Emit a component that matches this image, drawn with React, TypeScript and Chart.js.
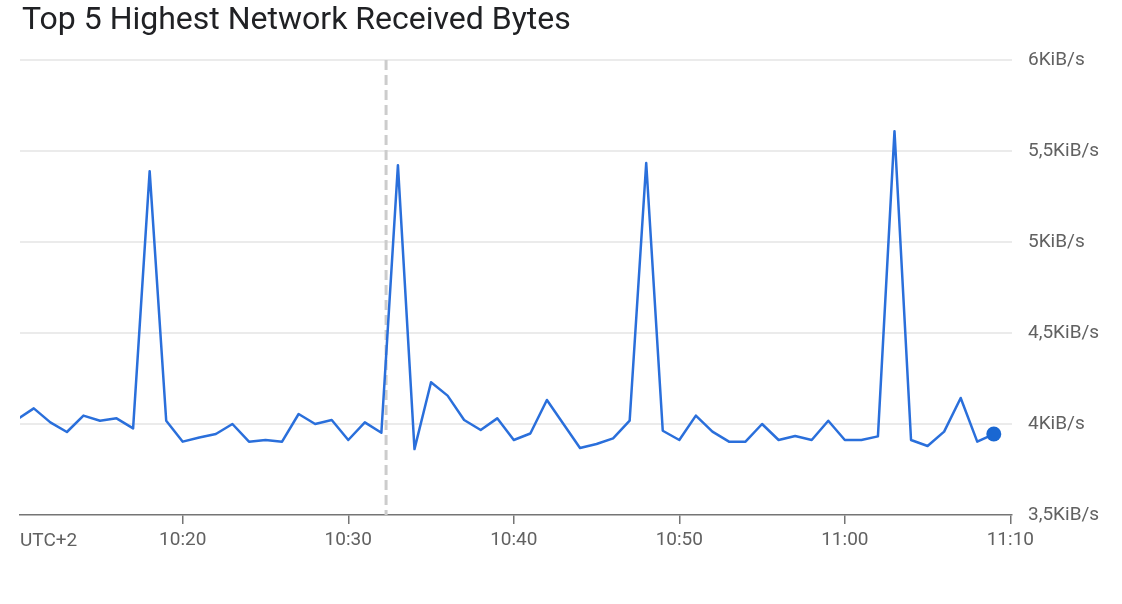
import React, { useEffect, useRef } from "react";
import { Chart, registerables } from "chart.js";

Chart.register(...registerables);

const TITLE = "Top 5 Highest Network Received Bytes";
const TIMEZONE_LABEL = "UTC+2";

const times = [
  "10:10", "10:11", "10:12", "10:13", "10:14", "10:15", "10:16", "10:17", "10:18", "10:19",
  "10:20", "10:21", "10:22", "10:23", "10:24", "10:25", "10:26", "10:27", "10:28", "10:29",
  "10:30", "10:31", "10:32", "10:33", "10:34", "10:35", "10:36", "10:37", "10:38", "10:39",
  "10:40", "10:41", "10:42", "10:43", "10:44", "10:45", "10:46", "10:47", "10:48", "10:49",
  "10:50", "10:51", "10:52", "10:53", "10:54", "10:55", "10:56", "10:57", "10:58", "10:59",
  "11:00", "11:01", "11:02", "11:03", "11:04", "11:05", "11:06", "11:07", "11:08", "11:09",
];

// KiB/s
const receivedKiB = [
  4.026, 4.086, 4.009, 3.956, 4.046, 4.018, 4.031, 3.976, 5.389, 4.018,
  3.903, 3.926, 3.945, 4.0, 3.903, 3.912, 3.903, 4.055, 4.0, 4.022,
  3.912, 4.009, 3.952, 5.422, 3.862, 4.229, 4.156, 4.022, 3.967, 4.031,
  3.912, 3.948, 4.132, 4.0, 3.868, 3.89, 3.921, 4.018, 5.434, 3.963,
  3.912, 4.046, 3.958, 3.903, 3.903, 4.0, 3.912, 3.934, 3.912, 4.018,
  3.912, 3.912, 3.932, 5.609, 3.912, 3.879, 3.958, 4.143, 3.903, 3.945,
];

const xTickLabels = ["10:20", "10:30", "10:40", "10:50", "11:00", "11:10"];
const yTickValues = [3.5, 4, 4.5, 5, 5.5, 6];
const yTickLabels = ["3,5KiB/s", "4KiB/s", "4,5KiB/s", "5KiB/s", "5,5KiB/s", "6KiB/s"];

const X_START = "10:10:10";
const X_END = "11:10:06";
const MARKER_TIME = "10:32:17";

function toMinutes(t: string): number {
  const parts = t.split(":").map(Number);
  return (parts[0] - 10) * 60 + parts[1] + (parts[2] || 0) / 60;
}

function minutesLabel(m: number): string {
  const h = 10 + Math.floor(m / 60);
  const mm = Math.round(m % 60);
  return `${h}:${mm < 10 ? "0" + mm : mm}`;
}

const FONT = "Roboto";
const LABEL_COLOR = "#616161";

export default function App() {
  const canvasRef = useRef<HTMLCanvasElement | null>(null);

  useEffect(() => {
    const canvas = canvasRef.current;
    if (!canvas) return;
    const points = times.map((t, i) => ({ x: toMinutes(t), y: receivedKiB[i] }));
    const xTickValues = xTickLabels.map(toMinutes);
    const lastIndex = points.length - 1;

    const overlay = {
      id: "overlay",
      beforeDatasetsDraw(chart: any) {
        const { ctx, chartArea, scales } = chart;
        const x = scales.x.getPixelForValue(toMinutes(MARKER_TIME));
        ctx.save();
        ctx.strokeStyle = "#cccccc";
        ctx.lineWidth = 3;
        ctx.setLineDash([10, 5]);
        ctx.beginPath();
        ctx.moveTo(x, chartArea.top);
        ctx.lineTo(x, chartArea.bottom);
        ctx.stroke();
        ctx.restore();
      },
      afterDraw(chart: any) {
        const { ctx, chartArea } = chart;
        ctx.save();
        ctx.font = `19px ${FONT}`;
        ctx.fillStyle = LABEL_COLOR;
        ctx.textAlign = "left";
        ctx.textBaseline = "middle";
        ctx.fillText(TIMEZONE_LABEL, chartArea.left, chartArea.bottom + 26);
        ctx.restore();
      },
    };

    const chart = new Chart(canvas, {
      type: "line",
      data: {
        datasets: [
          {
            data: points,
            borderColor: "#2a6fdb",
            backgroundColor: "#1967d2",
            borderWidth: 2.5,
            borderJoinStyle: "round",
            tension: 0,
            pointRadius: (ctx: any) => (ctx.dataIndex === lastIndex ? 7.5 : 0),
            pointBackgroundColor: "#1967d2",
            pointBorderWidth: 0,
            pointHoverRadius: 0,
          },
        ],
      },
      options: {
        animation: false,
        responsive: false,
        devicePixelRatio: 1,
        layout: { padding: { left: 20, top: 60, right: 0, bottom: 0 } },
        plugins: {
          legend: { display: false },
          title: { display: false },
          tooltip: { enabled: false },
        },
        scales: {
          x: {
            type: "linear",
            min: toMinutes(X_START),
            max: toMinutes(X_END),
            afterBuildTicks: (scale: any) => {
              scale.ticks = xTickValues.map((v) => ({ value: v }));
            },
            afterFit: (scale: any) => {
              scale.height = 89;
              scale.paddingLeft = 0;
              scale.paddingRight = 0;
            },
            ticks: {
              autoSkip: false,
              maxRotation: 0,
              padding: 5,
              color: LABEL_COLOR,
              font: { family: FONT, size: 19 },
              callback: (v: any) => minutesLabel(Number(v)),
            },
            grid: {
              drawOnChartArea: false,
              drawTicks: true,
              tickLength: 9,
              color: "#757575",
              lineWidth: 1.5,
            },
            border: { display: true, color: "#757575", width: 1.5 },
          },
          y: {
            position: "right",
            min: 3.5,
            max: 6,
            afterBuildTicks: (scale: any) => {
              scale.ticks = yTickValues.map((v) => ({ value: v }));
            },
            afterFit: (scale: any) => {
              scale.width = 110;
              scale.paddingTop = 0;
              scale.paddingBottom = 0;
            },
            ticks: {
              padding: 16,
              color: LABEL_COLOR,
              font: { family: FONT, size: 19 },
              callback: (v: any) => {
                const i = yTickValues.indexOf(Number(v));
                return i >= 0 ? yTickLabels[i] : "";
              },
            },
            grid: {
              drawTicks: false,
              color: (ctx: any) => (ctx.tick && ctx.tick.value === 3.5 ? "rgba(0,0,0,0)" : "#ebebeb"),
              lineWidth: 2,
            },
            border: { display: false },
          },
        },
      },
      plugins: [overlay],
    } as any);

    return () => chart.destroy();
  }, []);

  return (
    <div style={{ position: "absolute", left: 0, top: 0, width: 1122, height: 604, background: "#fff" }}>
      <canvas ref={canvasRef} width={1122} height={604} style={{ display: "block", width: 1122, height: 604 }} />
      <div
        style={{
          position: "absolute",
          left: 22,
          top: 2,
          fontFamily: FONT,
          fontSize: 32,
          lineHeight: "32px",
          color: "#202124",
          whiteSpace: "nowrap",
        }}
      >
        {TITLE}
      </div>
    </div>
  );
}
